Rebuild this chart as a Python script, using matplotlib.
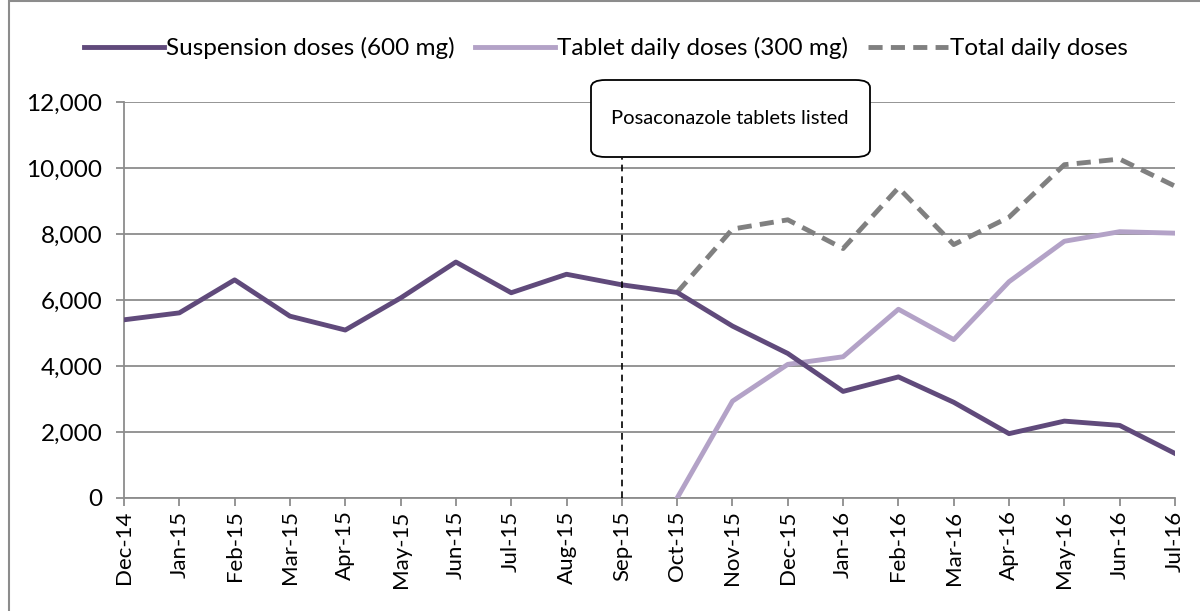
import matplotlib
matplotlib.use("Agg")
import matplotlib.pyplot as plt
from matplotlib.patches import Rectangle, FancyBboxPatch

months = ["Dec-14", "Jan-15", "Feb-15", "Mar-15", "Apr-15", "May-15", "Jun-15",
          "Jul-15", "Aug-15", "Sep-15", "Oct-15", "Nov-15", "Dec-15", "Jan-16",
          "Feb-16", "Mar-16", "Apr-16", "May-16", "Jun-16", "Jul-16"]
suspension = [5400, 5610, 6610, 5510, 5090, 6060, 7150, 6220, 6780, 6460,
              6230, 5210, 4380, 3230, 3670, 2900, 1950, 2330, 2200, 1350]
tablet_months = months[10:]
tablet = [0, 2935, 4050, 4280, 5720, 4800, 6555, 7780, 8070, 8025]
total_months = months[10:]
total = [6230, 8150, 8430, 7560, 9400, 7680, 8510, 10100, 10270, 9450]
yticks = [0, 2000, 4000, 6000, 8000, 10000, 12000]
annotation = "Posaconazole tablets listed"
annot_month = "Sep-15"

plt.rcParams['font.family'] = ['Lato', 'DejaVu Sans']

fig = plt.figure(figsize=(12, 6.11), dpi=100)
ax = fig.add_axes([124/1200, 1-498/611, (1175-124)/1200, (498-102)/611])

x = list(range(len(months)))
idx = {m: i for i, m in enumerate(months)}

l1, = ax.plot(x, suspension, color="#604A7B", lw=3.5, label="Suspension doses (600 mg)",
              solid_joinstyle="round", zorder=4)
l2, = ax.plot([idx[m] for m in tablet_months], tablet, color="#B3A2C7", lw=3.5,
              label="Tablet daily doses (300 mg)", solid_joinstyle="round", zorder=3)
l3, = ax.plot([idx[m] for m in total_months], total, color="#808080", lw=3.5,
              dashes=(2.9, 1.7), label="Total daily doses", zorder=3)

ax.set_xlim(0, len(months) - 1)
ax.set_ylim(0, 12000)
ax.set_yticks(yticks)
ax.set_yticklabels([f"{v:,}" for v in yticks], fontsize=17.5)
ax.set_xticks(x)
ax.set_xticklabels(months, rotation=90, fontsize=16)
ax.yaxis.grid(True, color="#8C8C8C", lw=1.3)
ax.set_axisbelow(True)
for s in ["top", "right"]:
    ax.spines[s].set_visible(False)
for s in ["left", "bottom"]:
    ax.spines[s].set_color("#8C8C8C")
    ax.spines[s].set_linewidth(1.3)
ax.tick_params(axis="both", color="#8C8C8C", width=1.3, length=6, direction="out")
ax.tick_params(axis="x", pad=3)
ax.tick_params(axis="y", pad=9.5)

# vertical dashed line at annotation month
ax.plot([idx[annot_month]] * 2, [0, 10300], color="black", lw=1.2,
        dashes=(4, 3), zorder=5, clip_on=False)

# annotation box (figure coordinates)
box = FancyBboxPatch((591/1200, 1-157/611), (870-591)/1200, (157-80)/611,
                     boxstyle="round,pad=0,rounding_size=0.012",
                     transform=fig.transFigure, facecolor="white",
                     edgecolor="black", lw=1.3, mutation_aspect=611/1200*2)
fig.patches.append(box)
fig.text(730/1200, 1-118/611, annotation, ha="center", va="center", fontsize=14.5)

leg = fig.legend(handles=[l1, l2, l3], loc="center", bbox_to_anchor=(606/1200, 1-48/611),
                 ncol=3, frameon=False, fontsize=17.5, handlelength=3.3,
                 columnspacing=0.8, handletextpad=0.1)

border = Rectangle((9/1200, -10/611), 1200/1200, 620/611, transform=fig.transFigure,
                   fill=False, edgecolor="#8C8C8C", lw=1.5)
fig.patches.append(border)

fig.savefig("out.png", dpi=100)
